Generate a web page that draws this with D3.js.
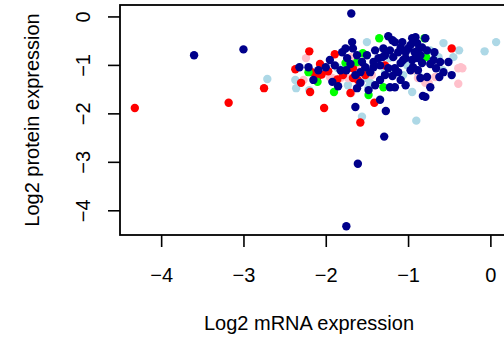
<!DOCTYPE html>
<html>
<head>
<meta charset="utf-8">
<script src="https://cdn.jsdelivr.net/npm/d3@7"></script>
<style>
  html, body { margin: 0; padding: 0; background: #fff; }
  svg { display: block; font-family: "Liberation Sans", Arial, Helvetica, sans-serif; }
</style>
</head>
<body>
<svg id="chart" width="504" height="341"></svg>
<script>
// log2 mRNA (x) vs log2 protein (y), one array per colour group
const navyPoints = [
  [-3.60, -0.80], [-3.00, -0.68], [-1.69, 0.06], [-1.61, -3.04], [-1.75, -4.33], [-1.29, -2.48],
  [-1.68, -0.53], [-1.67, -0.66], [-1.80, -0.74], [-1.74, -0.86], [-1.62, -0.80], [-1.50, -0.80],
  [-1.42, -0.94], [-1.52, -1.05], [-1.42, -1.05], [-1.24, -0.41], [-1.19, -0.49], [-1.16, -0.53],
  [-1.09, -0.64], [-1.03, -0.74], [-0.95, -0.45], [-0.91, -0.43], [-0.79, -0.45], [-0.97, -0.59],
  [-0.89, -0.55], [-1.30, -0.66], [-1.31, -0.84], [-1.18, -0.84], [-1.09, -0.96], [-1.03, -0.86],
  [-0.89, -0.86], [-0.83, -0.96], [-2.32, -1.05], [-2.21, -1.05], [-2.15, -1.31], [-1.92, -1.35],
  [-1.85, -1.44], [-1.75, -1.11], [-1.64, -1.87], [-1.62, -1.48], [-1.34, -1.72], [-1.27, -1.95],
  [-0.82, -1.64], [-1.22, -1.46], [-1.16, -1.46], [-1.34, -1.31], [-0.94, -1.05], [-0.85, -1.27],
  [-0.77, -1.25], [-1.09, -1.31], [-0.73, -1.46], [-0.79, -1.66], [-0.62, -1.25], [-0.47, -1.21],
  [-0.51, -0.94], [-0.73, -0.98], [-1.95, -0.90], [-1.89, -1.01], [-1.82, -1.11], [-1.70, -0.98],
  [-1.64, -1.21], [-1.58, -1.15], [-1.56, -0.94], [-1.46, -1.15], [-1.40, -0.70], [-1.36, -0.86],
  [-1.28, -0.80], [-1.22, -0.70], [-1.16, -1.07], [-1.12, -1.15], [-1.06, -0.90], [-1.00, -0.66],
  [-0.97, -1.11], [-0.92, -0.74], [-0.88, -0.70], [-0.85, -0.80], [-0.83, -0.64], [-0.77, -0.70],
  [-0.69, -0.90], [-0.66, -1.07], [-0.61, -0.94], [-0.57, -1.15], [-1.03, -1.42], [-1.28, -1.21],
  [-1.40, -1.42], [-1.48, -1.52], [-1.58, -1.37], [-1.76, -0.66], [-2.00, -1.05], [-2.09, -1.11],
  [-0.95, -0.90], [-0.88, -1.11], [-1.24, -1.07], [-1.19, -1.23], [-1.12, -0.74], [-1.07, -0.53],
  [-1.34, -1.01], [-0.68, -0.74]
];
const redPoints = [
  [-4.32, -1.89], [-3.18, -1.78], [-2.75, -1.48], [-2.37, -1.09], [-2.30, -1.37], [-2.20, -0.72],
  [-2.19, -1.56], [-2.07, -0.98], [-1.89, -0.78], [-2.10, -1.25], [-1.97, -1.13], [-1.79, -1.21],
  [-2.02, -1.89], [-1.67, -1.07], [-1.67, -1.27], [-1.61, -1.31], [-1.41, -1.78], [-1.58, -2.19],
  [-0.47, -0.66], [-1.28, -1.01], [-1.70, -1.58], [-2.17, -1.15], [-1.52, -1.21], [-2.05, -1.20],
  [-1.86, -1.30]
];
const greenPoints = [
  [-1.35, -0.45], [-0.80, -0.45], [-0.78, -0.84], [-1.90, -1.56], [-1.48, -1.62], [-1.30, -1.46],
  [-2.10, -1.35], [-2.21, -1.15], [-1.62, -0.94], [-1.55, -0.76], [-1.76, -0.96]
];
const pinkPoints = [
  [-2.24, -0.86], [-2.27, -1.31], [-1.95, -1.25], [-1.92, -1.27], [-1.73, -1.27], [-1.69, -1.58],
  [-1.70, -0.84], [-0.95, -1.11], [-0.88, -1.27], [-0.79, -1.37], [-0.75, -1.37], [-0.67, -1.25],
  [-0.39, -1.07], [-0.34, -1.07], [-0.39, -1.39], [-0.36, -1.05], [-1.82, -1.27], [-1.44, -1.21],
  [-2.12, -1.28], [-1.60, -1.05]
];
const lightBluePoints = [
  [-2.71, -1.29], [-2.37, -1.31], [-2.36, -1.48], [-2.20, -1.52], [-1.85, -1.07], [-1.50, -0.53],
  [-1.23, -0.86], [-1.86, -1.05], [-1.51, -1.27], [-1.46, -1.37], [-1.28, -1.15], [-1.16, -1.17],
  [-1.06, -1.21], [-1.03, -0.94], [-1.01, -1.01], [-0.88, -1.17], [-0.95, -1.56], [-1.56, -2.07],
  [-0.90, -2.15], [-0.57, -0.55], [-0.38, -0.70], [-0.07, -0.72], [0.07, -0.53], [-0.63, -0.84],
  [-0.45, -0.84], [-0.58, -1.11], [-1.73, -1.42], [-1.48, -1.46], [-1.75, -1.07], [-0.73, -0.70]
];

const xTicks = [-4, -3, -2, -1, 0];
const yTicks = [0, -1, -2, -3, -4];
const xLabel = "Log2 mRNA expression";
const yLabel = "Log2 protein expression";

const groups = [
  { pts: lightBluePoints, color: "#ADD8E6" },
  { pts: pinkPoints, color: "#FFC0CB" },
  { pts: redPoints, color: "#FF0000" },
  { pts: greenPoints, color: "#00FF00" },
  { pts: navyPoints, color: "#00008B" }
];

const svg = d3.select("#chart");
const plot = { left: 120, top: 5, right: 520, bottom: 235 };
const fontSize = 20;
const fmt = d3.format("d");

const x = d3.scaleLinear().domain([-4.5, 0.36]).range([plot.left, plot.right]);
const y = d3.scaleLinear().domain([-4.51, 0.236]).range([plot.bottom, plot.top]);

// points
groups.forEach((grp) => {
  svg.append("g")
    .selectAll("circle")
    .data(grp.pts)
    .enter()
    .append("circle")
    .attr("cx", (d) => x(d[0]))
    .attr("cy", (d) => y(d[1]))
    .attr("r", 4.2)
    .style("fill", grp.color);
});

// x axis
const gx = svg.append("g")
  .attr("transform", `translate(0,${plot.bottom})`)
  .call(d3.axisBottom(x).tickValues(xTicks).tickFormat(fmt).tickSize(12).tickSizeOuter(0));
gx.select(".domain").remove();
gx.selectAll("line").attr("stroke", "#000").attr("stroke-width", 1.6);
gx.selectAll("text")
  .attr("y", 47).attr("dy", 0)
  .style("font-size", fontSize + "px")
  .attr("fill", "#000");

// y axis, labels rotated like base R
const gy = svg.append("g")
  .attr("transform", `translate(${plot.left},0)`)
  .call(d3.axisLeft(y).tickValues(yTicks).tickFormat(fmt).tickSize(12).tickSizeOuter(0));
gy.select(".domain").remove();
gy.selectAll("line").attr("stroke", "#000").attr("stroke-width", 1.6);
gy.selectAll("text")
  .attr("transform", "rotate(-90)")
  .attr("x", 0).attr("y", -30).attr("dy", 0)
  .attr("text-anchor", "middle")
  .style("font-size", fontSize + "px")
  .attr("fill", "#000");

// box
svg.append("rect")
  .attr("x", plot.left)
  .attr("y", plot.top)
  .attr("width", plot.right - plot.left)
  .attr("height", plot.bottom - plot.top)
  .style("fill", "none")
  .style("stroke", "#000")
  .style("stroke-width", 1.8);

// axis titles
svg.append("text")
  .attr("x", 309)
  .attr("y", 330)
  .attr("text-anchor", "middle")
  .style("font-size", fontSize + "px")
  .text(xLabel);

svg.append("text")
  .attr("transform", `translate(39,${(plot.top + plot.bottom) / 2}) rotate(-90)`)
  .attr("text-anchor", "middle")
  .style("font-size", fontSize + "px")
  .text(yLabel);
</script>
</body>
</html>
